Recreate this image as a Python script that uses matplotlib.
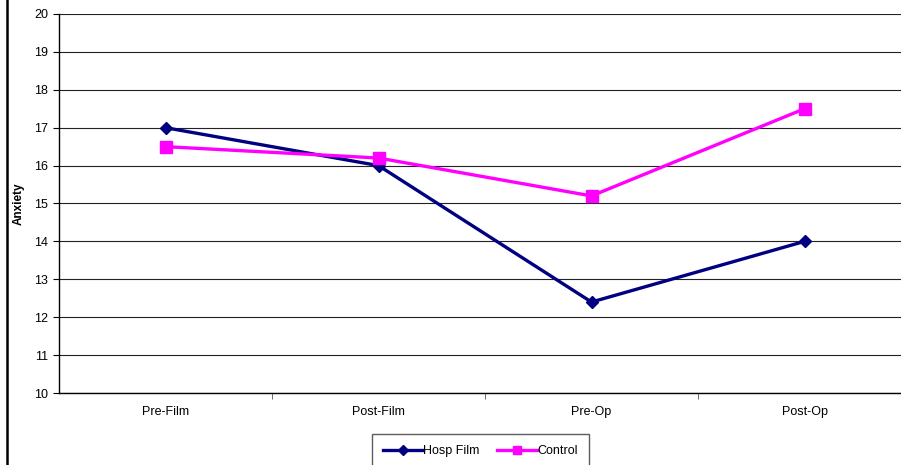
import numpy as np
import matplotlib.pyplot as plt
from matplotlib.lines import Line2D

stages = ['Pre-Film', 'Post-Film', 'Pre-Op', 'Post-Op']
hosp_film = [17.0, 16.0, 12.4, 14.0]
control = [16.5, 16.2, 15.2, 17.5]

plt.rcParams['font.family'] = ['Liberation Sans', 'DejaVu Sans']

W, H = 901, 465
fig = plt.figure(figsize=(W / 100, H / 100), dpi=100)
ax = fig.add_axes([59 / W, 72 / H, 852 / W, 379 / H])

x = np.arange(len(stages))
ax.plot(x, hosp_film, color='#000080', lw=2.4, marker='D', ms=6.5,
        label='Hosp Film', zorder=3)
ax.plot(x, control, color='#FF00FF', lw=2.4, marker='s', ms=8.5,
        label='Control', zorder=3)

ax.set_xlim(-0.5, 3.5)
ax.set_ylim(10, 20)
ax.set_yticks(range(10, 21))
ax.yaxis.grid(True, color='#222222', lw=0.8)
ax.set_axisbelow(True)

ax.set_xticks(x)
ax.set_xticklabels(stages)
ax.set_xticks([0.5, 1.5, 2.5], minor=True)
ax.tick_params(axis='x', which='major', length=0, pad=9, labelsize=9)
ax.tick_params(axis='x', which='minor', length=4, color='#555555')
ax.tick_params(axis='y', length=4, labelsize=9, pad=4)

for s in ['top', 'right']:
    ax.spines[s].set_visible(False)
ax.spines['left'].set_linewidth(1.0)
ax.spines['bottom'].set_linewidth(1.0)

ax.set_ylabel('Anxiety', fontsize=8.5, fontweight='bold')
ax.yaxis.set_label_coords(-0.040, 0.5)

leg = fig.legend(loc='upper left', bbox_to_anchor=(372 / W, 1 - 434 / H),
                 ncol=2, fontsize=9, frameon=True, fancybox=False,
                 edgecolor='#333333', handlelength=3.2, columnspacing=1.4,
                 borderpad=0.9, handletextpad=0.0, borderaxespad=0,
                 markerscale=0.75)
leg.get_frame().set_linewidth(1.0)

# heavy frame edge on the left
fig.add_artist(Line2D([7 / W, 7 / W], [0, 1], color='black', lw=1.8))

fig.savefig('out.png', dpi=100)
